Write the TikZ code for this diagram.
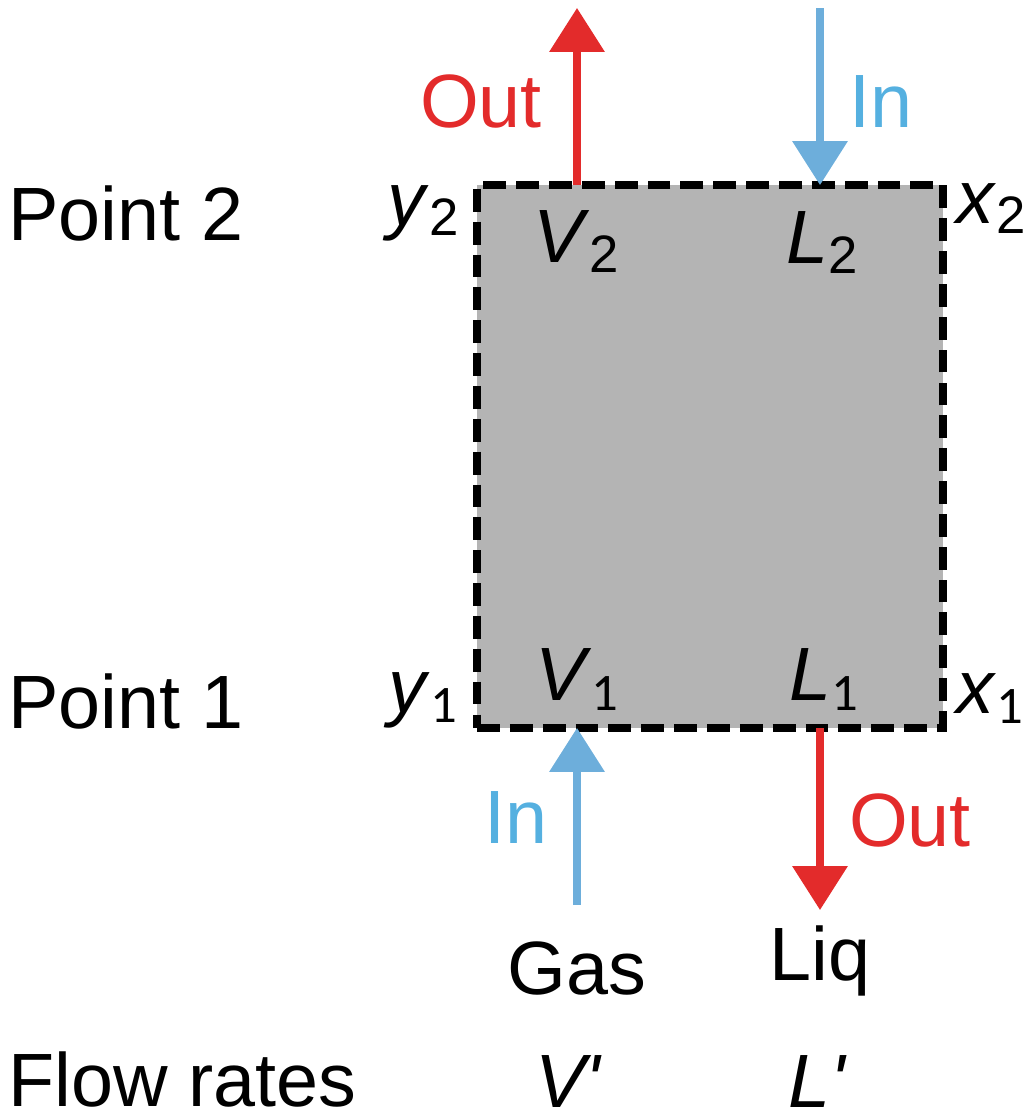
\documentclass[tikz,border=0pt]{standalone}
\usepackage{fontspec}
\setmainfont{Liberation Sans}
\newfontfamily\onefont{Carlito}
\usepackage{xcolor}
\usetikzlibrary{arrows.meta,positioning}
\definecolor{outred}{HTML}{E32B2B}
\definecolor{inblue}{HTML}{6DAEDB}
\definecolor{intext}{HTML}{55B0E0}
\definecolor{stage}{HTML}{B4B4B4}
\newcommand{\flowvar}[2]{\textit{#1}\raisebox{-0.2cm}{\fontsize{30}{30}\selectfont #2}}

\begin{document}
\begin{tikzpicture}[x=0.02cm,y=-0.02cm,font=\fontsize{43}{51}\selectfont,
  txt/.style={anchor=base,inner sep=0pt},
  arr/.style={line width=4pt,-{Triangle[length=0.88cm,width=1.08cm]}},
  stagebox/.style={draw,fill=stage,line width=4.5pt,dash pattern=on 13pt off 5.7pt,
    minimum width=9.32cm,minimum height=10.86cm,inner sep=0pt,outer sep=0pt}]
\useasboundingbox (0,0) rectangle (1029,1116);
\node[stagebox] (box) at (710,456.5) {};
% stream ends
\coordinate (vtop) at (577,8);
\coordinate (ltop) at (820,8);
\coordinate (vbot) at (577,905);
\coordinate (lbot) at (820,910);
\draw[arr,outred] (box.north -| vtop) -- (vtop);
\draw[arr,inblue] (ltop) -- (box.north -| ltop);
\draw[arr,inblue] (vbot) -- (box.south -| vbot);
\draw[arr,outred] (box.south -| lbot) -- (lbot);
% labels
\node[txt,text=outred] (outtop) at (481,127) {Out};
\node[txt,text=intext] (intop) at (881,127) {In};
\node[txt,text=intext] (inbot) at (516,843) {In};
\node[txt,text=outred] (outbot) at (910,846) {Out};
\node[txt,anchor=base west] (ptwo) at (8,240) {Point 2};
\node[txt,anchor=base west] (pone) at (8,728) {Point 1};
\node[txt,anchor=base west] (flow) at (8,1106) {Flow rates};
\node[txt] (ytwo) at (423,225) {\flowvar{y}{2}};
\node[txt] (vtwo) at (576,262) {\flowvar{V}{2}};
\node[txt] (ltwo) at (822,263) {\flowvar{L}{2}};
\node[txt] (xtwo) at (991,223) {\flowvar{x}{2}};
\node[txt] (yone) at (423,712) {\flowvar{y}{\onefont 1}};
\node[txt] (vone) at (577,700) {\flowvar{V}{\onefont 1}};
\node[txt] (lone) at (824,700) {\flowvar{L}{\onefont 1}};
\node[txt] (xone) at (990,713) {\flowvar{x}{\onefont 1}};
\node[txt] (gas) at (577,994) {Gas};
\node[txt] (liq) at (820,980) {Liq};
\node[txt] (vprime) at (569,1107) {\textit{V\textquotesingle}};
\node[txt] (lprime) at (818,1107) {\textit{L\textquotesingle}};
\end{tikzpicture}
\end{document}
